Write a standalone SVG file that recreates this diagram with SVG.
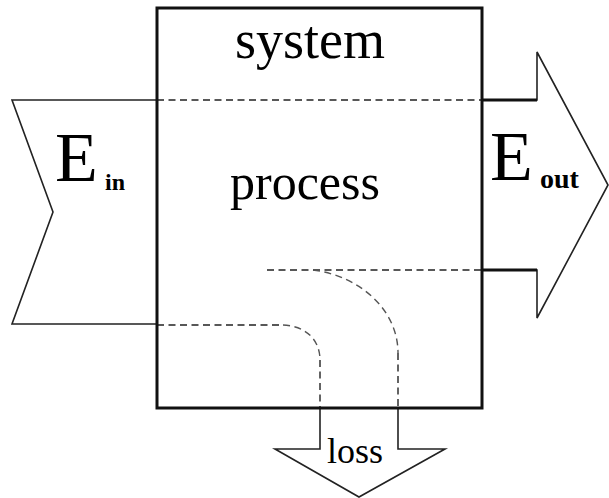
<svg xmlns="http://www.w3.org/2000/svg" width="609" height="498" viewBox="0 0 609 498">
  <style>
    .arrow { fill: #ffffff; stroke: #222222; stroke-width: 1.6; stroke-linejoin: miter; }
    .thick { fill: none; stroke: #111111; stroke-width: 3; }
    .box { fill: none; stroke: #111111; stroke-width: 3; }
    .dash { fill: none; stroke: #222222; stroke-width: 1.4; stroke-dasharray: 7 4.5; }
    .dashg { fill: none; stroke: #555555; stroke-width: 1.4; stroke-dasharray: 7 4.5; }
    text { font-family: 'Liberation Serif', 'DejaVu Serif', serif; fill: #000000; }
    .b { font-weight: bold; }
  </style>
  <rect width="609" height="498" fill="#ffffff"/>

  <g id="connectors">
    <polyline class="arrow" points="157,100 12,100 53,212 12,324 157,324"/>
    <polygon class="arrow" points="482,100 537,100 537,52 608,185 537,318 537,270 482,270"/>
    <line class="thick" x1="482" y1="100" x2="537" y2="100"/>
    <line class="thick" x1="482" y1="270" x2="537" y2="270"/>
    <polyline class="arrow" points="320,408 320,449 275,449 359,497 445,449 398,449 398,408"/>
    <line class="dash" x1="157" y1="100" x2="482" y2="100"/>
    <line class="dash" x1="267" y1="270" x2="482" y2="270"/>
    <path class="dashg" d="M313,270 C360,276 398,310 398,353"/>
    <line class="dash" x1="398" y1="353" x2="398" y2="408"/>
    <path class="dashg" d="M283,325 C306,326 320,340 320,360"/>
    <line class="dash" x1="157" y1="325" x2="283" y2="325"/>
    <line class="dash" x1="320" y1="360" x2="320" y2="408"/>
  </g>

  <g id="system">
    <rect class="box" x="157" y="8" width="325" height="400"/>
    <text x="310" y="58" font-size="54" text-anchor="middle" font-family="Liberation Serif, serif">system</text>
  </g>
  <g id="process">
    <text x="305" y="199" font-size="50" text-anchor="middle" font-family="Liberation Serif, serif">process</text>
  </g>
  <g id="e-in">
    <text x="55" y="181" font-size="70" font-family="Liberation Serif, serif">E</text>
    <text class="b" x="105" y="190" font-size="24" font-family="Liberation Serif, serif">in</text>
  </g>
  <g id="e-out">
    <text x="490" y="180" font-size="70" font-family="Liberation Serif, serif">E</text>
    <text class="b" x="540" y="188" font-size="28" font-family="Liberation Serif, serif">out</text>
  </g>
  <g id="loss">
    <text x="327" y="463" font-size="36" font-family="Liberation Serif, serif">loss</text>
  </g>
</svg>
